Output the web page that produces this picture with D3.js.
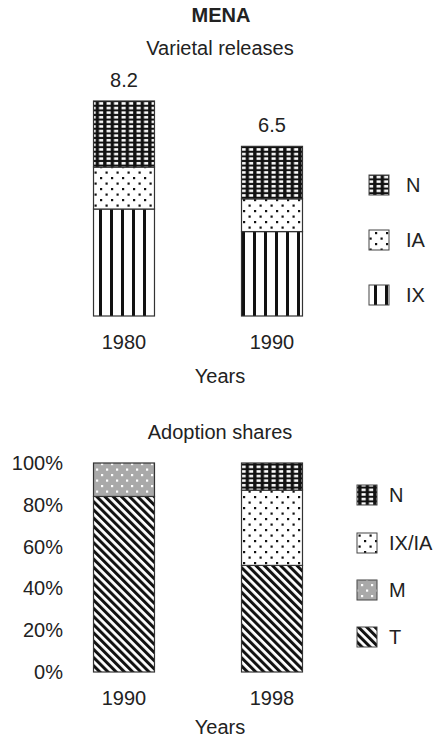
<!DOCTYPE html>
<html>
<head>
<meta charset="utf-8">
<script src="https://cdn.jsdelivr.net/npm/d3@7"></script>
<style>
  body { margin: 0; background: #fff; }
  text { font-family: "Liberation Sans", Arial, sans-serif; fill: #222; }
</style>
</head>
<body>
<div id="chart"></div>
<script>
// Varietal releases (top panel)
const releaseYears = ["1980", "1990"];
const releaseIX = [4.08, 3.22];
const releaseIA = [1.6, 1.25];
const releaseN = [2.52, 2.0];
const releaseTotals = ["8.2", "6.5"];
const releaseKeys = ["IX", "IA", "N"];

// Adoption shares (bottom panel), percent
const adoptYears = ["1990", "1998"];
const adoptT = [84, 51];
const adoptM = [16, 0];
const adoptIXIA = [0, 36];
const adoptN = [0, 13];
const adoptKeys = ["T", "M", "IX/IA", "N"];
const shareTicks = [0, 20, 40, 60, 80, 100];

const W = 434, H = 738;

const svg = d3.select("#chart")
    .append("svg")
    .attr("width", W)
    .attr("height", H);

// Fill patterns
const defs = svg.append("defs");

function addPattern(id, w, h, bg, draw, transform) {
    const p = defs.append("pattern")
        .attr("id", id)
        .attr("patternUnits", "userSpaceOnUse")
        .attr("width", w)
        .attr("height", h);
    if (transform) p.attr("patternTransform", transform);
    p.append("rect").attr("width", w).attr("height", h).attr("fill", bg);
    draw(p);
}

// N: dark mesh with small white squares
addPattern("pN", 7.5, 4.6, "#111", p => {
    p.append("rect").attr("x", 1.5).attr("y", 1).attr("width", 4.2).attr("height", 2.5).attr("fill", "#fff");
});
// IA / IX-IA: sparse staggered black dots
addPattern("pIA", 11, 11, "#fff", p => {
    p.append("rect").attr("x", 1).attr("y", 1).attr("width", 2.2).attr("height", 2.2).attr("fill", "#111");
    p.append("rect").attr("x", 6.5).attr("y", 6.5).attr("width", 2.2).attr("height", 2.2).attr("fill", "#111");
});
// IX: vertical stripes
addPattern("pIX", 11, 10, "#fff", p => {
    p.append("rect").attr("x", 0).attr("y", 0).attr("width", 3).attr("height", 10).attr("fill", "#111");
});
// M: grey with white dots
addPattern("pM", 10, 11, "#a9a9a9", p => {
    p.append("rect").attr("x", 1).attr("y", 1).attr("width", 2.2).attr("height", 2.2).attr("fill", "#fff");
    p.append("rect").attr("x", 6).attr("y", 6.5).attr("width", 2.2).attr("height", 2.2).attr("fill", "#fff");
});
// T: diagonal stripes
addPattern("pT", 5.8, 10, "#fff", p => {
    p.append("rect").attr("x", 0).attr("y", 0).attr("width", 3).attr("height", 10).attr("fill", "#111");
}, "rotate(-45)");

const fillFor = { "N": "url(#pN)", "IA": "url(#pIA)", "IX": "url(#pIX)",
                  "IX/IA": "url(#pIA)", "M": "url(#pM)", "T": "url(#pT)" };

// Shared x scale
const x = d3.scaleBand()
    .range([50, 346])
    .paddingInner(0.588)
    .paddingOuter(0.294);

// Titles
svg.append("text")
    .attr("x", 221).attr("y", 22)
    .attr("text-anchor", "middle")
    .style("font-size", "20px").style("font-weight", "bold")
    .text("MENA");

svg.append("text")
    .attr("x", 220).attr("y", 55)
    .attr("text-anchor", "middle")
    .style("font-size", "20px")
    .text("Varietal releases");

// ---- Top panel ----
const releaseData = releaseYears.map((yr, i) => ({
    year: yr, IX: releaseIX[i], IA: releaseIA[i], N: releaseN[i], total: releaseTotals[i]
}));
const xTop = x.copy().domain(releaseYears);
const yTop = d3.scaleLinear().domain([0, 8.2]).range([316, 101]);

const topStack = d3.stack().keys(releaseKeys)(releaseData);
const gTop = svg.append("g");
topStack.forEach(layer => {
    gTop.selectAll(null)
        .data(layer)
        .enter()
        .append("rect")
        .attr("x", d => xTop(d.data.year))
        .attr("width", xTop.bandwidth())
        .attr("y", d => yTop(d[1]))
        .attr("height", d => yTop(d[0]) - yTop(d[1]))
        .attr("fill", fillFor[layer.key])
        .attr("stroke", "#333")
        .attr("stroke-width", 1.2);
});

// total labels
gTop.selectAll(".total")
    .data(releaseData)
    .enter()
    .append("text")
    .attr("x", d => xTop(d.year) + xTop.bandwidth() / 2)
    .attr("y", d => yTop(d.IX + d.IA + d.N) - 14)
    .attr("text-anchor", "middle")
    .style("font-size", "20px")
    .text(d => d.total);

// x axis (labels only)
const axTop = svg.append("g")
    .attr("transform", "translate(0,316)")
    .call(d3.axisBottom(xTop).tickSize(0).tickPadding(19));
axTop.select(".domain").remove();
axTop.selectAll("text").style("font-size", "20px").attr("font-family", null);

svg.append("text")
    .attr("x", 220).attr("y", 383)
    .attr("text-anchor", "middle")
    .style("font-size", "20px")
    .text("Years");

// legend
const topLegend = ["N", "IA", "IX"];
const topLegY = [175, 230, 285];
topLegend.forEach((k, i) => {
    svg.append("rect")
        .attr("x", 369).attr("y", topLegY[i])
        .attr("width", 20).attr("height", 20)
        .attr("fill", fillFor[k])
        .attr("stroke", "#444").attr("stroke-width", 1);
    svg.append("text")
        .attr("x", 406).attr("y", topLegY[i] + 17)
        .style("font-size", "20px")
        .text(k);
});

// ---- Bottom panel ----
svg.append("text")
    .attr("x", 220).attr("y", 439)
    .attr("text-anchor", "middle")
    .style("font-size", "20px")
    .text("Adoption shares");

const adoptData = adoptYears.map((yr, i) => ({
    year: yr, "T": adoptT[i], "M": adoptM[i], "IX/IA": adoptIXIA[i], "N": adoptN[i]
}));
const xBot = x.copy().domain(adoptYears);
const yBot = d3.scaleLinear().domain([0, 100]).range([672, 463]);

const botStack = d3.stack().keys(adoptKeys)(adoptData);
const gBot = svg.append("g");
botStack.forEach(layer => {
    gBot.selectAll(null)
        .data(layer.filter(d => d[1] > d[0]))
        .enter()
        .append("rect")
        .attr("x", d => xBot(d.data.year))
        .attr("width", xBot.bandwidth())
        .attr("y", d => yBot(d[1]))
        .attr("height", d => yBot(d[0]) - yBot(d[1]))
        .attr("fill", fillFor[layer.key])
        .attr("stroke", "#333")
        .attr("stroke-width", 1.2);
});

// y axis labels
const axY = svg.append("g")
    .attr("transform", "translate(63,0)")
    .call(d3.axisLeft(yBot).tickValues(shareTicks).tickSize(0).tickPadding(0)
        .tickFormat(d => d + "%"));
axY.select(".domain").remove();
axY.selectAll("text").style("font-size", "20px").attr("font-family", null);

const axBot = svg.append("g")
    .attr("transform", "translate(0,672)")
    .call(d3.axisBottom(xBot).tickSize(0).tickPadding(19));
axBot.select(".domain").remove();
axBot.selectAll("text").style("font-size", "20px").attr("font-family", null);

svg.append("text")
    .attr("x", 220).attr("y", 734)
    .attr("text-anchor", "middle")
    .style("font-size", "20px")
    .text("Years");

const botLegend = ["N", "IX/IA", "M", "T"];
const botLegY = [485, 533, 580, 627];
botLegend.forEach((k, i) => {
    svg.append("rect")
        .attr("x", 357).attr("y", botLegY[i])
        .attr("width", 20).attr("height", 20)
        .attr("fill", fillFor[k])
        .attr("stroke", "#444").attr("stroke-width", 1);
    svg.append("text")
        .attr("x", 389).attr("y", botLegY[i] + 17)
        .style("font-size", "20px")
        .text(k);
});
</script>
</body>
</html>
